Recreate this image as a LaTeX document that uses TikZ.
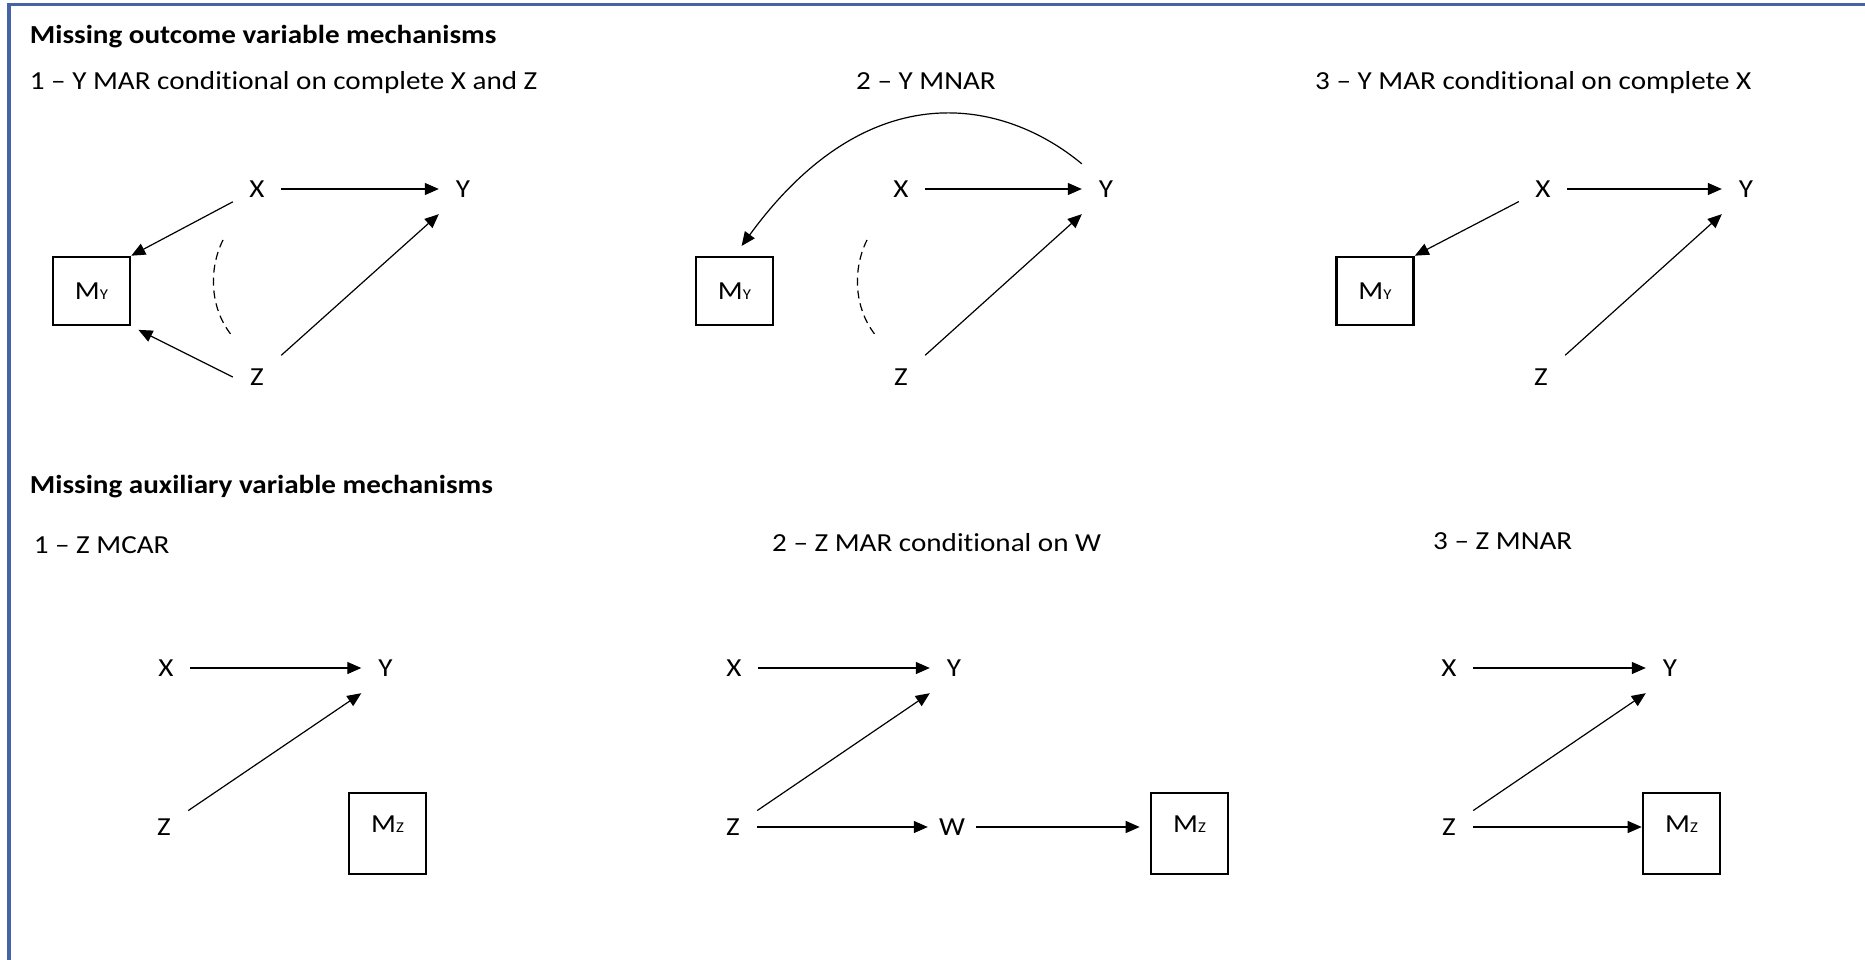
\documentclass[tikz,border=0pt]{standalone}
\usepackage{fontspec}
\setmainfont[FakeStretch=1.12, Ligatures={NoCommon}]{Carlito}
\usetikzlibrary{arrows.meta,calc}
\definecolor{framebl}{RGB}{68,100,165}
\newcommand\MsubY{M{\fontsize{15}{15}\selectfont Y}}
\newcommand\MsubZ{M{\fontsize{15}{15}\selectfont Z}}
\begin{document}
\begin{tikzpicture}[x=1pt,y=-1pt,
  every node/.style={font=\fontsize{26}{31}\selectfont},
  var/.style={rectangle, inner sep=0pt, minimum width=48pt, minimum height=50pt, text height=16.7pt, text depth=0pt},
  ybox/.style={draw, line width=2.6pt, inner sep=0pt, minimum width=77pt, minimum height=68pt, text height=16.7pt, text depth=0pt},
  zbox/.style={draw, line width=2.6pt, inner sep=0pt, minimum width=77pt, minimum height=81pt, text height=16.7pt, text depth=19pt},
  arr/.style={line width=1.2pt, -{Triangle[length=14pt,width=12pt]}},
  dsh/.style={line width=1.2pt, dash pattern=on 8pt off 5pt},
  lbl/.style={anchor=base west, inner sep=0pt},
  hdr/.style={anchor=base west, inner sep=0pt, font=\fontsize{26}{31}\selectfont\bfseries},
  frameline/.style={draw=framebl, line width=3.3pt}
]
\useasboundingbox (0,0) rectangle (1865,960);
\fill[white] (0,0) rectangle (1865,960);
\draw[frameline] (9,960) -- (9,4.7) -- (1865,4.7);

% ---------- headings ----------
\node[hdr] (h1) at (29.7,43.4) {Missing outcome variable mechanisms};
\node[lbl] (s1) at (29.7,90) {1 – Y MAR conditional on complete X and Z};
\node[lbl] (s2) at (856,90) {2 – Y MNAR};
\node[lbl] (s3) at (1315,90) {3 – Y MAR conditional on complete X};
\node[hdr] (h2) at (29.7,493.4) {Missing auxiliary variable mechanisms};
\node[lbl] (t1) at (33.6,553.4) {1 – Z MCAR};
\node[lbl] (t2) at (772,551.4) {2 – Z MAR conditional on W};
\node[lbl] (t3) at (1433,549.4) {3 – Z MNAR};

% ---------- top panel 1 ----------
\node[var] (X1) at (257,189) {X};
\node[var] (Y1) at (463,189) {Y};
\node[var] (Z1) at (257,377) {Z};
\node[ybox] (MY1) at (91.5,291) {\MsubY};
\draw[arr] (X1) -- (Y1);
\draw[arr] (X1) -- (MY1.north east);
\draw[arr, shorten >=8pt] (Z1.west) -- (MY1.south east);
\draw[arr] (Z1) -- (Y1.south west);
\draw[dsh] (223,240) .. controls (208,270) and (210,310) .. (233,337);

% ---------- top panel 2 ----------
\node[var] (X2) at (901,189) {X};
\node[var] (Y2) at (1106,189) {Y};
\node[var] (Z2) at (901,377) {Z};
\node[ybox] (MY2) at (734.5,291) {\MsubY};
\draw[arr] (X2) -- (Y2);
\draw[arr] (Z2) -- (Y2.south west);
\draw[arr, shorten >=12pt] (Y2.north west) .. controls (1005,100) and (870,70) .. (MY2.north);
\draw[dsh] (867,240) .. controls (852,270) and (854,310) .. (877,337);

% ---------- top panel 3 ----------
\node[var] (X3) at (1543,189) {X};
\node[var] (Y3) at (1746,189) {Y};
\node[var] (Z3) at (1541,377) {Z};
\node[ybox] (MY3) at (1375,291) {\MsubY};
\draw[arr] (X3) -- (Y3);
\draw[arr] (X3) -- (MY3.north east);
\draw[arr] (Z3) -- (Y3.south west);

% ---------- bottom panel 1 ----------
\node[var] (XB1) at (166,668) {X};
\node[var] (YB1) at (385.5,668) {Y};
\node[var] (ZB1) at (164,827) {Z};
\node[zbox] (MZ1) at (387.5,833.5) {\MsubZ};
\draw[arr] (XB1) -- (YB1);
\draw[arr] (ZB1) -- (YB1.south west);

% ---------- bottom panel 2 ----------
\node[var] (XB2) at (734,668) {X};
\node[var] (YB2) at (954,668) {Y};
\node[var] (ZB2) at (733,827) {Z};
\node[var] (WB2) at (952,827) {W};
\node[zbox] (MZ2) at (1189.5,833.5) {\MsubZ};
\draw[arr] (XB2) -- (YB2);
\draw[arr] (ZB2) -- (YB2.south west);
\draw[arr] (ZB2) -- (WB2);
\draw[arr, shorten >=10pt] (WB2) -- (WB2 -| MZ2.west);

% ---------- bottom panel 3 ----------
\node[var] (XB3) at (1449,668) {X};
\node[var] (YB3) at (1670,668) {Y};
\node[var] (ZB3) at (1449,827) {Z};
\node[zbox] (MZ3) at (1681.5,833.5) {\MsubZ};
\draw[arr] (XB3) -- (YB3);
\draw[arr] (ZB3) -- (YB3.south west);
\draw[arr] (ZB3) -- (ZB3 -| MZ3.west);
\end{tikzpicture}
\end{document}
